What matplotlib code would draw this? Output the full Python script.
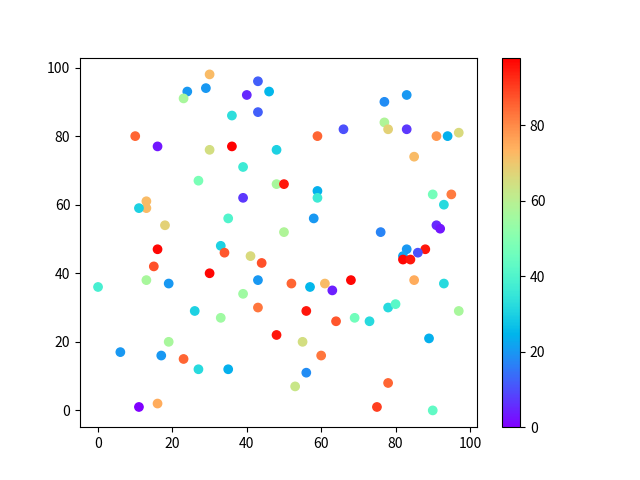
import matplotlib
matplotlib.use("Agg")
import matplotlib.pyplot as plt
import numpy as np

plt.rcParams['font.family'] = ['Noto Sans CJK SC', 'DejaVu Sans']

x = [30, 43, 24, 29, 46, 23, 40, 36, 43, 10, 16, 30, 36, 48, 39, 27, 48, 50, 39, 13, 13, 11, 18, 35,
     77, 83, 77, 78, 83, 66, 59, 91, 94, 97, 85, 59, 59, 58, 50, 76, 90, 95, 93, 91, 92,
     16, 33, 34, 41, 44, 15, 30, 13, 19, 43, 0, 39, 43, 26, 33, 48, 19, 6, 17, 23, 27, 35, 11, 16,
     83, 88, 86, 82, 82, 84, 52, 57, 61, 63, 68, 85, 93, 56, 64, 69, 73, 78, 80, 97, 55, 60, 89,
     56, 53, 78, 75, 90]
y = [98, 96, 93, 94, 93, 91, 92, 86, 87, 80, 77, 76, 77, 76, 71, 67, 66, 66, 62, 61, 59, 59, 54, 56,
     90, 92, 84, 82, 82, 82, 80, 80, 80, 81, 74, 64, 62, 56, 52, 52, 63, 63, 60, 54, 53,
     47, 48, 46, 45, 43, 42, 40, 38, 37, 38, 36, 34, 30, 29, 27, 22, 20, 17, 16, 15, 12, 12, 1, 2,
     47, 47, 46, 45, 44, 44, 37, 36, 37, 35, 38, 38, 37, 29, 26, 27, 26, 30, 31, 29, 20, 16, 21,
     11, 7, 8, 1, 0]
c = [72, 12, 20, 20, 25, 57, 5, 33, 12, 85, 3, 65, 98, 30, 36, 48, 57, 95, 7, 72, 72, 30, 68, 40,
     18, 20, 58, 68, 7, 10, 85, 78, 24, 66, 72, 24, 36, 20, 58, 17, 47, 82, 32, 5, 3,
     97, 30, 87, 66, 88, 88, 97, 57, 20, 20, 38, 55, 83, 30, 55, 95, 57, 20, 20, 85, 32, 24, 0, 75,
     20, 95, 10, 22, 97, 95, 85, 25, 72, 4, 97, 75, 32, 95, 87, 46, 32, 32, 42, 57, 65, 83, 24,
     18, 63, 85, 90, 43]

fig, ax = plt.subplots(figsize=(6.4, 4.8), dpi=100)
sc = ax.scatter(x, y, c=c, cmap='rainbow')
fig.colorbar(sc, ax=ax)
fig.savefig('out.png')
